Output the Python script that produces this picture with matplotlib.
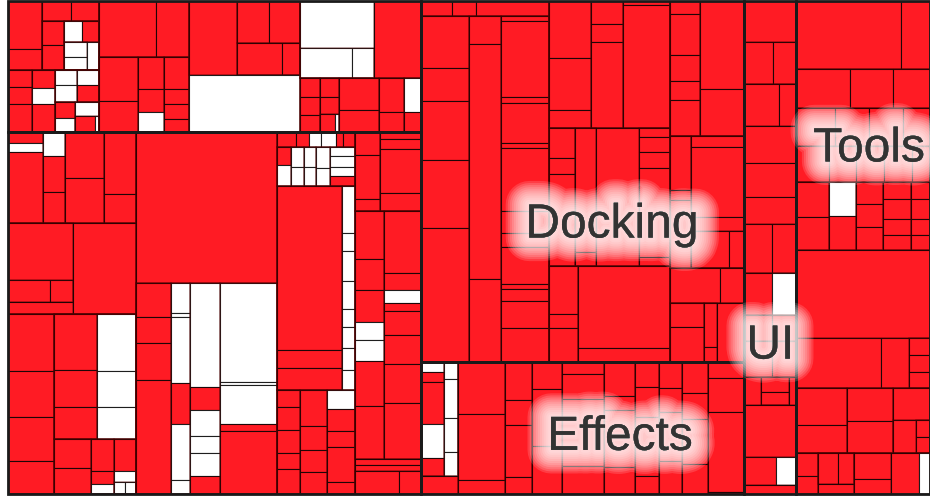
import matplotlib
matplotlib.use('Agg')
import matplotlib.pyplot as plt
from matplotlib.patches import Rectangle
import matplotlib.patheffects as pe

# class sizes per package, nested as the package tree
# (leaf = class size, negative = class not covered -> drawn white)
left_top = [
    [[[1632, 680],
      [[580, 540], [[528, 528], [[-378, 357], [[-322, -299], -308]]]]],
     [[408, 408, 672], [414, -368, 644],
      [[[-330, -374], [-315, 357]], [[320, -280], [-345, [300, -60]]]]]],
    [[3192, 1848], [[1677, 1209], [806, 598, -520], [775, 375, 375, 325]]],
    [[3504, [[1333, 1290], [1364, 558]]], -6270],
    [[[-3478, [-1560, -660]], 3619],
     [[360, 360, 340], [342, 323, [270, -72]], [1280, 880], [825, 500], [-561, 340]]],
]

left_bottom = [
    [[[385, -315, 2485], [-528, 792, 682], [1794, 1755], [1922, 899]],
     [[3584, [924, 484], 768], 5607],
     [[2622, 2116, 2024, 1518],
      [[[2394, 1554, 1344], [-2185, -1406, -1216]],
       [[1044, 936], [736, 299, -230], [672, -231, [-132, -120]]]]]],
    [21150,
     [[1190, 910, 1295, 3955], [-570, -76, -1254, 760, -1064, -266],
      [-3120, 660, -780, -510, -690, 540], [-5643, -171, -2166, 399, 3591]]],
    [[270, 195, -180, -210, 105, 180],
     [[234, -273], [-260, -247], [-240, -228], [-294, -252], [-225, -275, -225, 225]],
     [[10496, 1152, 1408], [-611, -247, -390, -364, -234, -273, -286, -260]],
     [[374, 484, 506, 352, 550], [972, 648, 594, 594], [-532, 588, 448, 980, 336]]],
    [[[575, 1100, 300], [287, 410, 1804, 738]],
     [[1392, 899, 899, -522, -609, 1305, 1537], [2257, 629, -481, 296, 888, 1073, 1443, 2035]],
     396, 396,
     [1012, 506]],
]

docking = [
    [[450, 360, 1080],
     [[2444, 1504, 2773, 3196, 6251], [896, 7424, 2656],
      [240, 3600, 288, 1920, 240, 2976, 1056, 672, 1728, 240, 576, 1296, 1632]]],
    [[[2394, 2142, 756], [736, 544, 2720], [188, 5734]],
     [[780, 416, 2366], [2583, 294], 5891, [279, 465, 496, 2728, 279]],
     [[1392, 406, 986], [7544, 1288]]],
    [[[390, 1230, 750, 570, 1080], [3828, 2024]],
     [[1134, 210, 1407], [583, 3657, 742, [1369, 555]]],
     [1700, 850],
     [[816, 1190], [572, 195], 1593]],
]

effects = [
    [[[-230, 207, 966, -759, 414], [-221, -494, -442, -312]], 648],
    [2397, 3102, 658],
    [1026, 675, 1404, 459],
    [810, 1680, 1440],
    [492, 984, 2747, 1148],
    [1023, 434, 1767, 837],
    [600, 696, 1416, 432],
    [575, 552, 1104, 759],
    [806, 650, 1170, 780],
    [576, 1188, 2880, 72],
]

ui = [2132, [1176, 966], [1428, 714], 1924, 1716, 1404, [1350, 1200], [1134, -1008],
      [728, 624], [980, 840], [476, [420, 364], 196], 2652, [896, -560], 468]

tools = [
    [7004, 1972],
    [2067, 1638, 1404],
    [1482, 1326, 1287, 1053],
    [1152, 972, 1008, 972, 648],
    [[1120, 1056], [-918, 918], [594, 621, 621], [459, 540, 432, 405], [323, 380, 304, 285]],
    11616,
    [4200, 1350, [357, 357, 336]],
    [[1850, 1400], [1485, 1440], [1184, [726, [231, 231]]]],
    [[506, 391], [[594, 486], 364], [975, 546], 1170, -429],
]

root = [[left_top, left_bottom], [docking, effects], ui, tools]
package_names = {id(left_top): '', id(left_bottom): '', id(docking): 'Docking',
                 id(effects): 'Effects', id(ui): 'UI', id(tools): 'Tools'}

RED = '#ff1b24'
W, H = 922.0, 493.0


def size(node):
    if isinstance(node, list):
        return sum(size(n) for n in node)
    return abs(node)


group_rects = {}


def slice_dice(ax, node, x0, y0, x1, y1, depth):
    if not isinstance(node, list):
        ax.add_patch(Rectangle((x0, y0), x1 - x0, y1 - y0,
                               facecolor=RED if node > 0 else 'white',
                               edgecolor=(0, 0, 0, 0.8), linewidth=0.8))
        return
    total = size(node)
    pos = x0 if depth % 2 == 0 else y0
    for child in node:
        step = size(child) / total * ((x1 - x0) if depth % 2 == 0 else (y1 - y0))
        if depth % 2 == 0:
            slice_dice(ax, child, pos, y0, pos + step, y1, depth + 1)
        else:
            slice_dice(ax, child, x0, pos, x1, pos + step, depth + 1)
        pos += step
    if id(node) in package_names:
        group_rects[package_names[id(node)] or str(id(node))] = (x0, y0, x1, y1)
    elif depth > 1:
        ax.add_patch(Rectangle((x0, y0), x1 - x0, y1 - y0, fill=False,
                               edgecolor=(0.3, 0, 0, 0.4), linewidth=1.1))


fig = plt.figure(figsize=(9.3, 5.0), dpi=100)
ax = fig.add_axes([8 / 930, 6 / 500, 922 / 930, 493 / 500])
ax.set_xlim(0, W)
ax.set_ylim(H, 0)
ax.axis('off')

slice_dice(ax, root, 0, 0, W, H, 0)

# package borders
for name, (x0, y0, x1, y1) in group_rects.items():
    ax.add_patch(Rectangle((x0, y0), x1 - x0, y1 - y0, fill=False,
                           edgecolor='#1a1a1a', linewidth=2.0, clip_on=False))

# label placement inside each package box (fractions of the box)
label_pos = {'Docking': (0.59, 0.62), 'Effects': (0.615, 0.57),
             'UI': (0.5, 0.70), 'Tools': (0.545, 0.30)}
glow = [pe.Stroke(linewidth=lw, foreground=(1, 1, 1, 0.15), joinstyle='round')
        for lw in range(34, 3, -3)]
glow.append(pe.Normal())
for name, (fx, fy) in label_pos.items():
    x0, y0, x1, y1 = group_rects[name]
    ax.text(x0 + fx * (x1 - x0), y0 + fy * (y1 - y0), name,
            ha='center', va='center', fontsize=34.5, color='#333333',
            family='Liberation Sans', path_effects=glow)

fig.savefig('out.png', dpi=100)
